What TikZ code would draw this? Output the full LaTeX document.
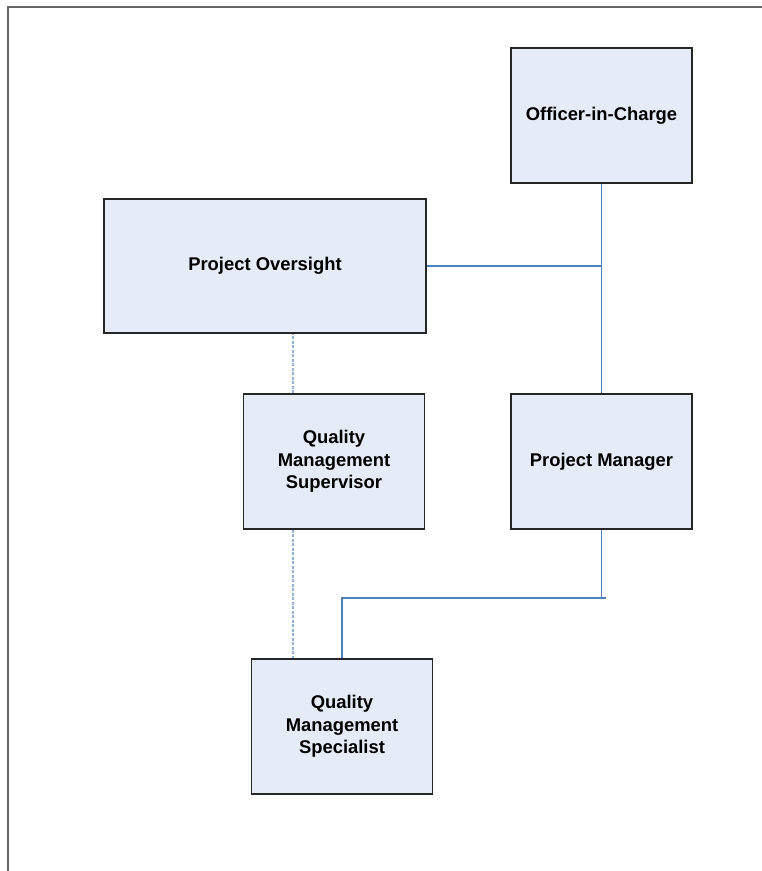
\documentclass[tikz,border=0pt]{standalone}
\usepackage{fontspec}
\setmainfont{Liberation Sans}
\definecolor{boxfill}{HTML}{E6ECF7}
\definecolor{connblue}{HTML}{4F81BD}
\definecolor{dashblue}{HTML}{95B3D7}
\definecolor{frameg}{HTML}{666666}
\tikzset{
  orgbox/.style={draw=black!85, line width=1.2pt, fill=boxfill, rectangle, inner sep=2pt,
    align=center, font=\fontsize{18.4}{22.5}\selectfont\bfseries,
    minimum width=181pt, minimum height=135pt},
  conn/.style={draw=connblue, line width=1.2pt},
  dconn/.style={draw=dashblue, line width=1.5pt, dash pattern=on 3pt off 1.5pt}
}
\begin{document}
\begin{tikzpicture}[x=1pt,y=-1pt]
\useasboundingbox (0,0) rectangle (762,871);
\draw[frameg, line width=2pt] (8,871) -- (8,7) -- (762,7);
\node[orgbox] (oic) at (601.5,115.5) {Officer-in-Charge};
\node[orgbox, minimum width=322pt, minimum height=134pt] (po) at (265,266) {Project Oversight};
\node[orgbox] (qms) at (334,461.5) {Quality\\Management\\Supervisor};
\node[orgbox] (pm) at (601.5,461.5) {Project Manager};
\node[orgbox] (qmsp) at (342,726.5) {Quality\\Management\\Specialist};
\coordinate (j) at (601.5,598);
\draw[conn] (oic.south) -- (pm.north);
\draw[conn] (po.east) -- (po.east -| oic.south);
\draw[dconn] ([xshift=-41pt]qms.north) -- ([xshift=-41pt]qms.north |- po.south);
\draw[dconn] ([xshift=-41pt]qms.south) -- ([xshift=-41pt]qms.south |- qmsp.north);
\draw[conn] (pm.south) -- (j);
\draw[conn] ([xshift=4pt]j) -| (qmsp.north);
\end{tikzpicture}
\end{document}
